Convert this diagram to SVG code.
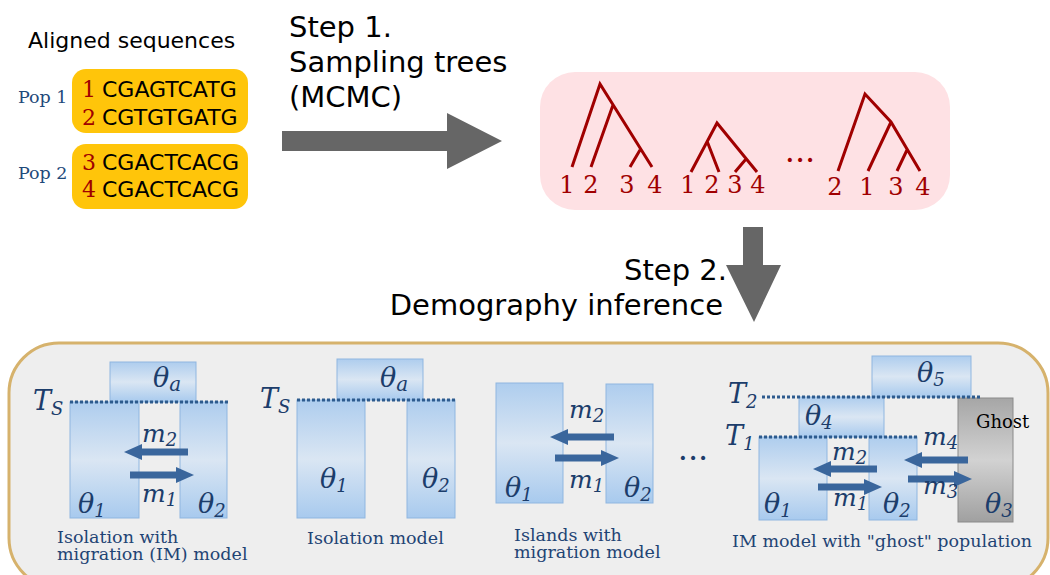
<svg xmlns="http://www.w3.org/2000/svg" width="1050" height="575" viewBox="0 0 1050 575">
<style>
.sans{font-family:"DejaVu Sans","Liberation Sans",sans-serif;}
.serif{font-family:"DejaVu Serif","Liberation Serif",serif;}
.title{font-size:29px;fill:#000;}
.seq{font-size:22px;fill:#000;}
.seqn{font-size:22px;fill:#a00000;}
.pop{font-size:17.5px;fill:#1f4a7a;}
.leaf{font-size:24px;fill:#a00000;}
.tree{fill:none;stroke:#a00000;stroke-width:3;stroke-linecap:butt;}
.sym{font-size:27px;font-style:italic;fill:#1c3d6b;}
.msym{font-size:25px;font-style:italic;fill:#1c3d6b;}
.cap{font-size:17.5px;fill:#1f4474;}
.pbox{fill:url(#blue);stroke:#8fb6e0;stroke-width:1;}
.dot{stroke:#2d5b8e;stroke-width:3;stroke-dasharray:3,2;fill:none;}
.mig{fill:#3a669c;}
.big{fill:#666;}
</style>
<defs>
<linearGradient id="blue" x1="0" y1="0" x2="0" y2="1">
<stop offset="0" stop-color="#aecdee"/>
<stop offset="0.5" stop-color="#dae6f3"/>
<stop offset="1" stop-color="#a8caee"/>
</linearGradient>
<linearGradient id="gray" x1="0" y1="0" x2="0" y2="1">
<stop offset="0" stop-color="#a6a6a6"/>
<stop offset="0.5" stop-color="#d2d2d2"/>
<stop offset="1" stop-color="#a0a0a0"/>
</linearGradient>
<path id="arr" d="M0,-3.5 H46 V-8 L64,0 L46,8 V3.5 H0 Z"/>
</defs>

<g id="aligned">
<text class="sans" x="28" y="48" font-size="22">Aligned sequences</text>
<rect x="72" y="69" width="176" height="64" rx="14" fill="#ffc50a"/>
<rect x="72" y="144" width="176" height="65" rx="14" fill="#ffc50a"/>
<text class="serif pop" x="18" y="103">Pop 1</text>
<text class="serif pop" x="18" y="179">Pop 2</text>
<text class="serif seqn" x="82" y="97">1</text>
<text class="serif seqn" x="82" y="125">2</text>
<text class="serif seqn" x="82" y="170">3</text>
<text class="serif seqn" x="82" y="197">4</text>
<text class="sans seq" x="102" y="97">CGAGTCATG</text>
<text class="sans seq" x="102" y="125">CGTGTGATG</text>
<text class="sans seq" x="102" y="170">CGACTCACG</text>
<text class="sans seq" x="102" y="197">CGACTCACG</text>
</g>

<g id="step1">
<text class="sans title" x="289" y="37">Step 1.</text>
<text class="sans title" x="289" y="72">Sampling trees</text>
<text class="sans title" x="289" y="107">(MCMC)</text>
</g>

<g id="trees">
<rect x="540" y="72" width="410" height="138" rx="35" fill="#fee1e4"/>
<path class="tree" d="M572,167 L600,84 L652,167 M613,105 L591,167 M640,150 L630,167"/>
<path class="tree" d="M691,172 L717,123 L757,172 M707,141 L719,172 M746,159 L735,172"/>
<path class="tree" d="M838,171 L865,94 L891,122 L920,171 M891,122 L868,171 M907,150 L897,171"/>
<g class="serif leaf" text-anchor="middle">
<text x="567" y="193">1</text><text x="591" y="193">2</text><text x="627" y="193">3</text><text x="655" y="193">4</text>
<text x="688" y="193">1</text><text x="712" y="193">2</text><text x="735" y="193">3</text><text x="758" y="193">4</text>
<text x="835" y="195">2</text><text x="867" y="195">1</text><text x="896" y="195">3</text><text x="923" y="195">4</text>
<text x="800" y="162" font-size="32">...</text>
</g>
</g>

<g id="step2">
<text class="sans title" x="727" y="280" text-anchor="end">Step 2.</text>
<text class="sans title" x="723" y="315" text-anchor="end">Demography inference</text>
</g>

<g id="connectors">
<polygon class="big" points="282,131 447,131 447,113 502,141 447,169 447,151 282,151"/>
<polygon class="big" points="743,227 763,227 763,265 781,265 754,322 726,265 743,265"/>
</g>

<g id="models">
<rect x="9" y="343" width="1039" height="245" rx="50" fill="#eeeeee" stroke="#d6b26c" stroke-width="3"/>

<g id="im-model">
<rect class="pbox" x="110" y="362" width="86" height="40"/>
<rect class="pbox" x="70" y="402" width="69" height="116"/>
<rect class="pbox" x="180" y="402" width="47" height="116"/>
<line class="dot" x1="70" y1="402" x2="228" y2="402"/>
<use href="#arr" class="mig" transform="translate(188,452) scale(-1,1)"/>
<use href="#arr" class="mig" transform="translate(130,475)"/>
<text class="serif sym" x="153" y="387">θ<tspan font-size="20" dy="4">a</tspan></text>
<text class="serif sym" x="78" y="513">θ<tspan font-size="18" dy="4">1</tspan></text>
<text class="serif sym" x="198" y="513">θ<tspan font-size="18" dy="4">2</tspan></text>
<text class="serif msym" x="142" y="442">m<tspan font-size="18" dy="4">2</tspan></text>
<text class="serif msym" x="142" y="502">m<tspan font-size="18" dy="4">1</tspan></text>
<text class="serif sym" x="33" y="410">T<tspan font-size="18" dy="5">S</tspan></text>
<text class="serif cap" x="57" y="543">Isolation with</text>
<text class="serif cap" x="57" y="560">migration (IM) model</text>
</g>

<g id="isolation-model">
<rect class="pbox" x="337" y="359" width="86" height="41"/>
<rect class="pbox" x="297" y="400" width="68" height="118"/>
<rect class="pbox" x="407" y="400" width="48" height="118"/>
<line class="dot" x1="297" y1="400" x2="455" y2="400"/>
<text class="serif sym" x="380" y="387">θ<tspan font-size="20" dy="4">a</tspan></text>
<text class="serif sym" x="320" y="488">θ<tspan font-size="18" dy="4">1</tspan></text>
<text class="serif sym" x="422" y="488">θ<tspan font-size="18" dy="4">2</tspan></text>
<text class="serif sym" x="260" y="408">T<tspan font-size="18" dy="5">S</tspan></text>
<text class="serif cap" x="307" y="544">Isolation model</text>
</g>

<g id="islands-model">
<rect class="pbox" x="496" y="383" width="67" height="120"/>
<rect class="pbox" x="606" y="384" width="47" height="119"/>
<use href="#arr" class="mig" transform="translate(614,437) scale(-1,1)"/>
<use href="#arr" class="mig" transform="translate(555,458)"/>
<text class="serif msym" x="569" y="418">m<tspan font-size="18" dy="4">2</tspan></text>
<text class="serif msym" x="569" y="488">m<tspan font-size="18" dy="4">1</tspan></text>
<text class="serif sym" x="505" y="497">θ<tspan font-size="18" dy="4">1</tspan></text>
<text class="serif sym" x="624" y="497">θ<tspan font-size="18" dy="4">2</tspan></text>
<text class="serif cap" x="514" y="541">Islands with</text>
<text class="serif cap" x="514" y="558">migration model</text>
<text class="serif" x="693" y="460" font-size="32" fill="#1c3d6b" text-anchor="middle">...</text>
</g>

<g id="ghost-model">
<rect class="pbox" x="872" y="356" width="99" height="41"/>
<rect class="pbox" x="799" y="397" width="85" height="40"/>
<rect x="958" y="398" width="55" height="124" fill="url(#gray)" stroke="#8a8a8a" stroke-width="1"/>
<line class="dot" x1="762" y1="397" x2="980" y2="397"/>
<rect class="pbox" x="759" y="437" width="68" height="83"/>
<rect class="pbox" x="869" y="437" width="48" height="83"/>
<line class="dot" x1="759" y1="437" x2="917" y2="437"/>
<use href="#arr" class="mig" transform="translate(877,469) scale(-1,1)"/>
<use href="#arr" class="mig" transform="translate(818,487)"/>
<use href="#arr" class="mig" transform="translate(968,460) scale(-1,1)"/>
<use href="#arr" class="mig" transform="translate(908,479)"/>
<text class="serif" x="976" y="428" font-size="18" fill="#000">Ghost</text>
<text class="serif sym" x="917" y="382">θ<tspan font-size="18" dy="4">5</tspan></text>
<text class="serif sym" x="805" y="425">θ<tspan font-size="18" dy="4">4</tspan></text>
<text class="serif sym" x="764" y="513">θ<tspan font-size="18" dy="4">1</tspan></text>
<text class="serif sym" x="883" y="513">θ<tspan font-size="18" dy="4">2</tspan></text>
<text class="serif sym" x="985" y="513">θ<tspan font-size="18" dy="4">3</tspan></text>
<text class="serif msym" x="832" y="460">m<tspan font-size="18" dy="4">2</tspan></text>
<text class="serif msym" x="833" y="506">m<tspan font-size="18" dy="4">1</tspan></text>
<text class="serif msym" x="923" y="445">m<tspan font-size="18" dy="4">4</tspan></text>
<text class="serif msym" x="923" y="494">m<tspan font-size="18" dy="4">3</tspan></text>
<text class="serif sym" x="728" y="403">T<tspan font-size="18" dy="5">2</tspan></text>
<text class="serif sym" x="725" y="445">T<tspan font-size="18" dy="5">1</tspan></text>
<text class="serif cap" x="732" y="547">IM model with "ghost" population</text>
</g>
</g>
</svg>
